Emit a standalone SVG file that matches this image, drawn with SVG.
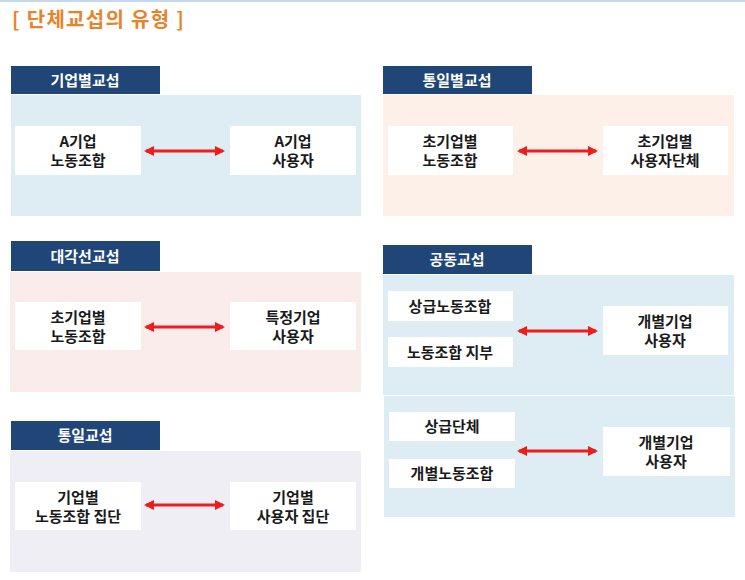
<svg xmlns="http://www.w3.org/2000/svg" width="745" height="580" viewBox="0 0 745 580">
<defs>
<style>
text{font-family:"Noto Sans CJK KR","Noto Sans",sans-serif;font-weight:bold;}
.hd{fill:#1F4677;}
.hdt{fill:#ffffff;font-size:15px;text-anchor:middle;}
.box{fill:#ffffff;}
.t{fill:#1a1a1a;font-size:15px;text-anchor:middle;}
.blue{fill:#DEECF3;}
.peach{fill:#FDF0E8;}
.pink{fill:#FBECEC;}
.lav{fill:#EFEEF5;}
.arr{stroke:#EE1C1C;stroke-width:3.2;marker-start:url(#ah);marker-end:url(#ah);}
</style>
<marker id="ah" viewBox="0 0 10 10" refX="8" refY="5" markerWidth="3.2" markerHeight="3.6" orient="auto-start-reverse" markerUnits="strokeWidth">
<path d="M0,0 L10,5 L0,10 z" fill="#EE1C1C"/>
</marker>
</defs>
<rect x="0" y="0" width="745" height="580" fill="#ffffff"/>
<line x1="0" y1="1" x2="745" y2="1" stroke="#C5D9EC" stroke-width="2"/>
<text x="12" y="27" font-size="20" fill="#E8832A" letter-spacing="1.3">[ 단체교섭의 유형 ]</text>

<g id="panel-company">
<rect class="blue" x="11" y="95" width="350" height="121"/>
<rect class="hd" x="11" y="66" width="149" height="28"/>
<text class="hdt" x="85" y="85.5">기업별교섭</text>
</g>
<g id="company-union">
<rect class="box" x="15" y="126" width="126" height="49"/>
<text class="t" x="78" y="146.5">A기업</text>
<text class="t" x="78" y="166">노동조합</text>
</g>
<g id="company-employer">
<rect class="box" x="230" y="126" width="126" height="49"/>
<text class="t" x="293" y="146.5">A기업</text>
<text class="t" x="293" y="166">사용자</text>
</g>

<g id="panel-unified-industry">
<rect class="peach" x="383" y="95" width="351" height="121"/>
<rect class="hd" x="383" y="66" width="149" height="28"/>
<text class="hdt" x="457" y="85.5">통일별교섭</text>
</g>
<g id="industry-union">
<rect class="box" x="388" y="126" width="125" height="49"/>
<text class="t" x="450" y="146.5">초기업별</text>
<text class="t" x="450" y="166">노동조합</text>
</g>
<g id="industry-employers">
<rect class="box" x="603" y="126" width="125" height="49"/>
<text class="t" x="665" y="146.5">초기업별</text>
<text class="t" x="665" y="166">사용자단체</text>
</g>

<g id="panel-diagonal">
<rect class="pink" x="10" y="272" width="351" height="120"/>
<rect class="hd" x="11" y="241" width="149" height="30"/>
<text class="hdt" x="85" y="261.5">대각선교섭</text>
</g>
<g id="diagonal-union">
<rect class="box" x="15" y="302" width="126" height="48"/>
<text class="t" x="78" y="322.5">초기업별</text>
<text class="t" x="78" y="342">노동조합</text>
</g>
<g id="diagonal-employer">
<rect class="box" x="230" y="302" width="126" height="48"/>
<text class="t" x="293" y="322.5">특정기업</text>
<text class="t" x="293" y="342">사용자</text>
</g>

<g id="panel-unified">
<rect class="lav" x="10" y="451" width="351" height="121"/>
<rect class="hd" x="11" y="421" width="149" height="29"/>
<text class="hdt" x="85" y="441">통일교섭</text>
</g>
<g id="unified-unions">
<rect class="box" x="15" y="482" width="126" height="48"/>
<text class="t" x="78" y="502.5">기업별</text>
<text class="t" x="78" y="522">노동조합 집단</text>
</g>
<g id="unified-employers">
<rect class="box" x="230" y="482" width="126" height="48"/>
<text class="t" x="293" y="502.5">기업별</text>
<text class="t" x="293" y="522">사용자 집단</text>
</g>

<g id="panel-joint">
<rect class="blue" x="383" y="275" width="351" height="120"/>
<rect class="blue" x="384" y="396" width="351" height="121"/>
<rect class="hd" x="383" y="245" width="149" height="29"/>
<text class="hdt" x="457" y="265">공동교섭</text>
</g>
<g id="joint-upper-union">
<rect class="box" x="388" y="291" width="125" height="30"/>
<text class="t" x="450" y="311.5">상급노동조합</text>
</g>
<g id="joint-branch">
<rect class="box" x="388" y="337" width="125" height="30"/>
<text class="t" x="450" y="357.5">노동조합 지부</text>
</g>
<g id="joint-employer-1">
<rect class="box" x="603" y="306" width="125" height="49"/>
<text class="t" x="665" y="326.5">개별기업</text>
<text class="t" x="665" y="346">사용자</text>
</g>
<g id="joint-upper-org">
<rect class="box" x="389" y="412" width="126" height="29"/>
<text class="t" x="452" y="432">상급단체</text>
</g>
<g id="joint-individual-union">
<rect class="box" x="389" y="459" width="126" height="29"/>
<text class="t" x="452" y="479">개별노동조합</text>
</g>
<g id="joint-employer-2">
<rect class="box" x="603" y="427" width="127" height="49"/>
<text class="t" x="666" y="447.5">개별기업</text>
<text class="t" x="666" y="467">사용자</text>
</g>

<g id="connectors">
<line class="arr" x1="146" y1="151" x2="223" y2="151"/>
<line class="arr" x1="519" y1="151" x2="596" y2="151"/>
<line class="arr" x1="146" y1="327" x2="223" y2="327"/>
<line class="arr" x1="146" y1="505" x2="223" y2="505"/>
<line class="arr" x1="519" y1="331" x2="596" y2="331"/>
<line class="arr" x1="519" y1="451" x2="596" y2="451"/>
</g>
</svg>
